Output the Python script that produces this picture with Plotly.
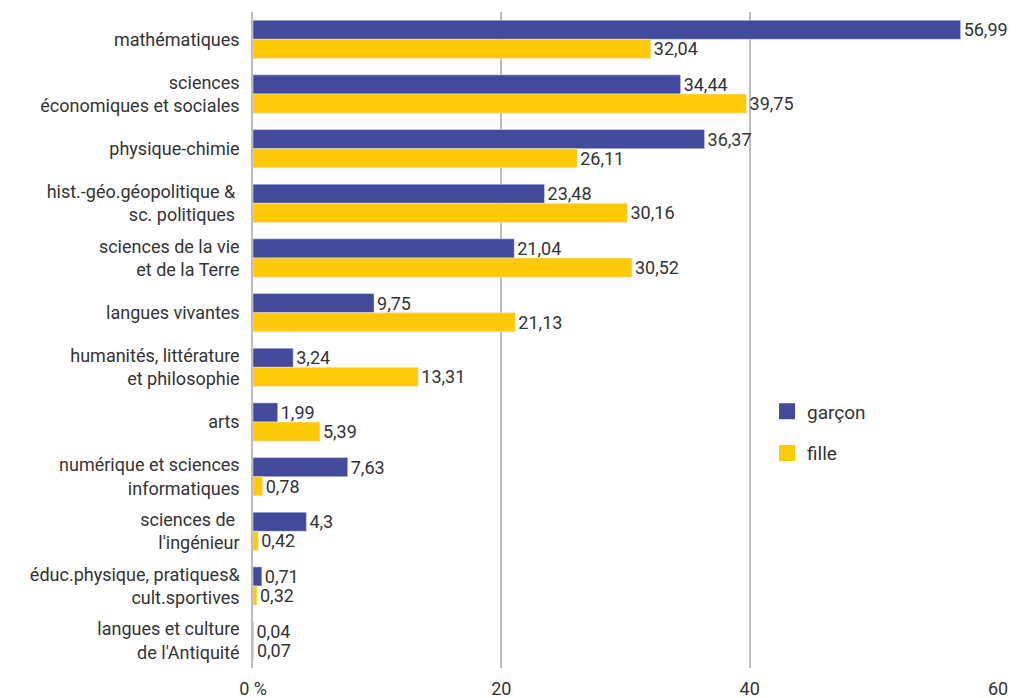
import plotly.graph_objects as go

categories = [
    "mathématiques",
    "sciences<br>économiques et sociales",
    "physique-chimie",
    "hist.-géo.géopolitique & <br>sc. politiques ",
    "sciences de la vie<br>et de la Terre",
    "langues vivantes",
    "humanités, littérature<br>et philosophie",
    "arts",
    "numérique et sciences<br>informatiques",
    "sciences de <br>l'ingénieur",
    "éduc.physique, pratiques&<br>cult.sportives",
    "langues et culture<br>de l'Antiquité",
]
garcon = [56.99, 34.44, 36.37, 23.48, 21.04, 9.75, 3.24, 1.99, 7.63, 4.3, 0.71, 0.04]
fille = [32.04, 39.75, 26.11, 30.16, 30.52, 21.13, 13.31, 5.39, 0.78, 0.42, 0.32, 0.07]

BLUE = "#434A9C"
YELLOW = "#FFC90A"
FONT = "Roboto, sans-serif"


def fmt(v):
    return str(v).replace(".", ",")


fig = go.Figure()
fig.add_trace(go.Bar(
    y=categories, x=garcon, orientation="h", name="garçon",
    marker_color=BLUE, text=[fmt(v) for v in garcon],
    textposition="outside", cliponaxis=False, constraintext="none",
    textfont=dict(size=18, color="#333333", family=FONT),
    showlegend=False,
))
fig.add_trace(go.Bar(
    y=categories, x=fille, orientation="h", name="fille",
    marker_color=YELLOW, text=[fmt(v) for v in fille],
    textposition="outside", cliponaxis=False, constraintext="none",
    textfont=dict(size=18, color="#333333", family=FONT),
    showlegend=False,
))
# legend entries with large squares
for name, col in [("garçon", BLUE), ("fille", YELLOW)]:
    fig.add_trace(go.Scatter(
        x=[None], y=[None], mode="markers", name=name, legendgroup=name,
        marker=dict(symbol="square", size=16, color=col),
    ))

fig.update_layout(
    width=1023, height=698,
    margin=dict(l=245, r=33, t=4, b=38),
    paper_bgcolor="white", plot_bgcolor="white",
    barmode="group", bargap=0.3, bargroupgap=0,
    font=dict(family=FONT, size=18, color="#333333"),
    legend=dict(x=0.69, y=0.42, xanchor="left", yanchor="top",
                tracegroupgap=14, itemsizing="trace",
                font=dict(size=19, color="#333333"),
                bgcolor="rgba(0,0,0,0)"),
)
fig.update_xaxes(
    range=[0, 60], tickvals=[0, 20, 40, 60], ticktext=["0 %", "20", "40", "60"],
    showgrid=True, gridcolor="#BDBDBD", gridwidth=1.5,
    zeroline=False, showline=False, ticks="", ticklabelstandoff=8,
)
fig.update_yaxes(
    autorange="reversed", showgrid=False, ticks="", ticklabelstandoff=8,
    showline=True, linecolor="#BDBDBD", linewidth=1.5,
)

fig.write_html("out.html")
